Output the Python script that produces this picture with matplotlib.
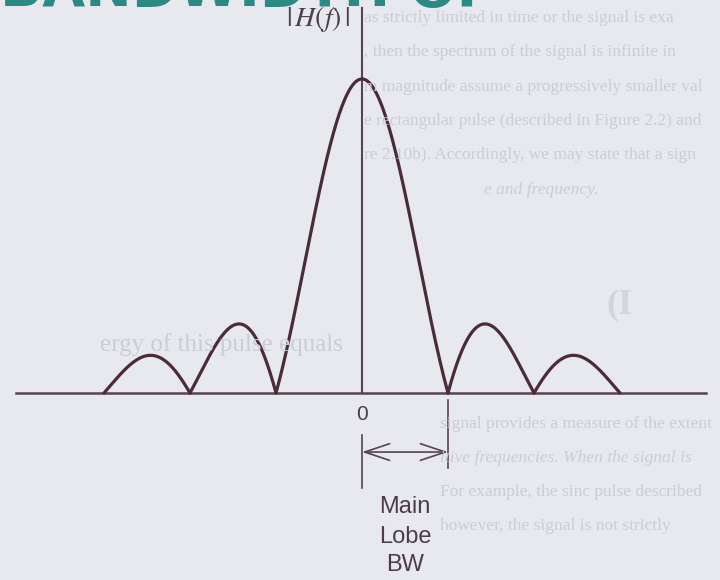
import numpy as np
import matplotlib
matplotlib.use("Agg")
import matplotlib.pyplot as plt

# spectrum |H(f)| of a rectangular pulse: nulls at integer multiples of 1/T
null_freqs = [-3, -2, -1, 1, 2, 3]
lobe_peaks = [0.12, 0.22, 1.0, 0.22, 0.12]   # height of each lobe, main lobe = 1
axis_span = (-4.02, 4.0)                     # extent of the frequency axis
axis_top = 1.226                             # top of the |H(f)| axis
bw_edge = 1                                  # main lobe half width (first null)

# faint page text around the figure: (x px, y px, text, style, size)
page_lines = [
    (364, 18, "as strictly limited in time or the signal is exa", "normal", 12.5),
    (364, 52, ", then the spectrum of the signal is infinite in", "normal", 12.5),
    (364, 87, "m magnitude assume a progressively smaller val", "normal", 12.5),
    (364, 121, "e rectangular pulse (described in Figure 2.2) and", "normal", 12.5),
    (364, 155, "re 2.10b). Accordingly, we may state that a sign", "normal", 12.5),
    (484, 190, "e and frequency.", "italic", 12.5),
    (100, 345, "ergy of this pulse equals", "normal", 18),
    (440, 424, "signal provides a measure of the extent", "normal", 12.5),
    (440, 458, "itive frequencies. When the signal is", "italic", 12.5),
    (440, 492, "For example, the sinc pulse described", "normal", 12.5),
    (440, 526, "however, the signal is not strictly", "normal", 12.5),
]

W, H = 720, 580
bg = "#e8e9ef"
faint = "#cbcdd5"
ink = "#4a2c38"
axis_ink = "#574450"
label_ink = "#4c3c48"

# pixel geometry of the drawing: origin and scale of one unit
x0_px, base_px = 362, 393
ux, uy = 86.0, 314.0

fig = plt.figure(figsize=(W / 100, H / 100), dpi=100, facecolor=bg)

for x, y, s, st, fs in page_lines:
    fig.text(x / W, 1 - y / H, s, family="Liberation Serif", style=st,
             fontsize=fs, color=faint, va="center", ha="left")
fig.text(606 / W, 1 - 305 / H, "(I", family="Liberation Serif", weight="bold",
         fontsize=26, color="#d3d5dc", va="center")
# heading of the section above, cut by the page edge
fig.text(0, 1 - 6 / H, "BANDWIDTH OF", family="DejaVu Sans",
         weight="bold", fontsize=40, color="#2c8a85", va="baseline")

ax = fig.add_axes([0, 0, 1, 1])
ax.set_facecolor("none")
ax.set_xlim(-x0_px / ux, (W - x0_px) / ux)
ax.set_ylim(-(H - base_px) / uy, base_px / uy)
ax.axis("off")

# lobes between consecutive nulls
bounds = list(zip(null_freqs[:-1], null_freqs[1:]))
for (a, b), pk in zip(bounds, lobe_peaks):
    f = np.linspace(a, b, 300)
    shape = np.abs(np.sinc(f))
    ax.plot(f, shape / shape.max() * pk, color=ink, lw=2.3,
            solid_capstyle="round", zorder=3)

# axes
ax.plot(axis_span, [0, 0], color=axis_ink, lw=1.8, zorder=2)
ax.plot([0, 0], [0, axis_top], color=axis_ink, lw=1.5, zorder=2)
ax.text(-0.14, 1.19, r"$|\,H(f)\,|$", fontsize=20, color="#4a4048",
        ha="right", va="center", math_fontfamily="stix")

# main lobe bandwidth marker
sans = "Liberation Sans"
ax.text(0, -0.07, "0", family=sans, fontsize=15, color=label_ink,
        ha="center", va="center")
ax.plot([bw_edge, bw_edge], [-0.022, -0.239], color=axis_ink, lw=1.2)
ax.plot([0, 0], [-0.134, -0.303], color=axis_ink, lw=1.2)
ax.annotate("", xy=(bw_edge, -0.188), xytext=(0, -0.188),
            arrowprops=dict(arrowstyle="<->,head_length=0.9,head_width=0.3",
                            mutation_scale=20, lw=1.2, color=axis_ink,
                            shrinkA=0, shrinkB=0))
for s, y in [("Main", -0.363), ("Lobe", -0.459), ("BW", -0.548)]:
    ax.text(bw_edge / 2, y, s, family=sans, fontsize=17, color=label_ink,
            ha="center", va="center")

fig.savefig("out.png", dpi=100, facecolor=bg)
